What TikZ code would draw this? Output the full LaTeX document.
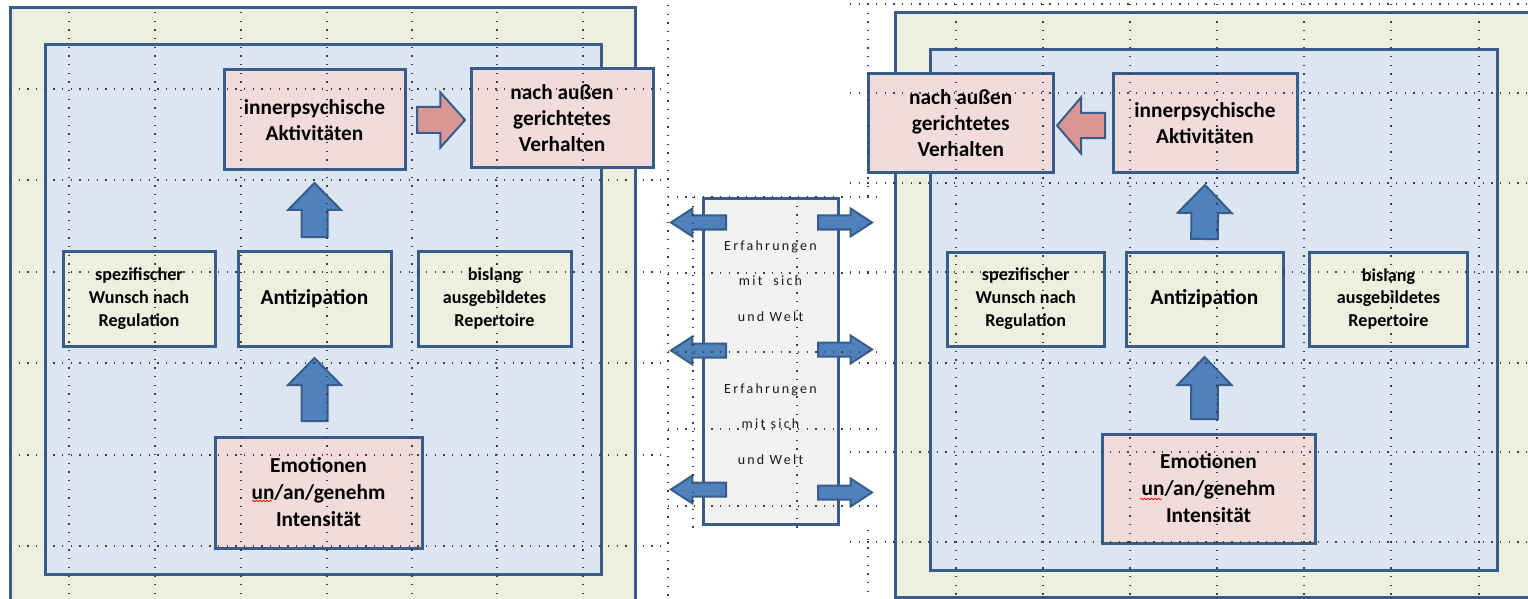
\documentclass[tikz,border=0pt]{standalone}
\usepackage{fontspec}
\setmainfont{Carlito}
\newfontfamily\midfont{Carlito}[LetterSpace=16]
\usetikzlibrary{calc,decorations.pathmorphing}

\definecolor{frame}{HTML}{385D8A}
\definecolor{olivebg}{HTML}{EBF1DE}
\definecolor{bluebg}{HTML}{DCE6F2}
\definecolor{rosebg}{HTML}{F2DCDB}
\definecolor{arrowblue}{HTML}{4F81BD}
\definecolor{arrowrose}{HTML}{D99694}
\definecolor{greybg}{HTML}{F2F2F2}
\definecolor{griddot}{HTML}{404040}
\definecolor{midtext}{HTML}{1A1A1A}

\tikzset{
  panel/.style={draw=frame, line width=2.25pt, inner sep=0pt, outer sep=0pt},
  box/.style={draw=frame, line width=2.25pt, inner sep=0pt, outer sep=0pt, align=center},
  rosebox/.style={box, fill=rosebg},
  olivebox/.style={box, fill=olivebg},
  bigtext/.style={font=\bfseries\fontsize{16}{19.5}\selectfont},
  emotext/.style={font=\bfseries\fontsize{16}{20.25}\selectfont},
  smalltext/.style={font=\bfseries\fontsize{13.6}{17.2}\selectfont},
  barrow/.style={fill=arrowblue, draw=frame, line width=1.5pt, line join=miter},
  rarrow/.style={fill=arrowrose, draw=frame, line width=1.5pt, line join=miter},
  dotline/.style={draw=griddot, line width=0.9pt, dash pattern=on 0.9pt off 5.6pt},
  spellmark/.style={draw=red, line width=0.6pt, decorate,
    decoration={snake, amplitude=0.55pt, segment length=2.6pt}},
}

% rectangle node given by its corners (in px): style, name, x1, y1, x2, y2, text
\newcommand\boxnode[7]{%
  \node[#1, minimum width={(#5-#3)*0.75pt}, minimum height={(#6-#4)*0.75pt}]
    (#2) at ({(#3+#5)/2},{(#4+#6)/2}) {#7};
}

% block arrow: style, tail, tip, shaft half-width, head half-width, head length
\newcommand\blockarrow[6]{%
  \coordinate (ba-h) at ($(#3)!#6!(#2)$);
  \path[#1] ($(#2)!#4!90:(#3)$) -- ($(ba-h)!#4!-90:(#2)$) -- ($(ba-h)!#5!-90:(#2)$)
    -- (#3) -- ($(ba-h)!#5!90:(#2)$) -- ($(ba-h)!#4!90:(#2)$) -- ($(#2)!#4!-90:(#3)$) -- cycle;
}

\begin{document}
\begin{tikzpicture}[x=0.75pt, y=-0.75pt]
\useasboundingbox (0,0) rectangle (1528,599);
\clip (0,0) rectangle (1528,599);

% ---------- panels ----------
\boxnode{panel, fill=olivebg}{Lframe}{10}{7.5}{635.5}{615}{}
\boxnode{panel, fill=bluebg}{Lbody}{45.5}{45}{601}{574.5}{}
\boxnode{panel, fill=olivebg}{Rframe}{895}{13}{1545}{597}{}
\boxnode{panel, fill=bluebg}{Rbody}{930}{50}{1497}{570}{}

% ---------- middle column ----------
\boxnode{box, fill=greybg}{mid}{703}{198.5}{838}{524}{}

% ---------- left boxes ----------
\boxnode{rosebox, bigtext}{Linner}{224}{70}{405}{170}{innerpsychische\\Aktivitäten}
\boxnode{rosebox, bigtext}{Lout}{471}{69}{653}{168}{nach außen\\gerichtetes\\Verhalten}
\boxnode{olivebox, smalltext}{Lwish}{63}{251}{215}{346}{spezifischer\\Wunsch nach\\Regulation}
\boxnode{olivebox, bigtext}{Lanti}{238}{251}{391}{346}{Antizipation}
\boxnode{olivebox, smalltext}{Lrep}{418}{251}{571}{346}{bislang\\ausgebildetes\\Repertoire}
\boxnode{rosebox, emotext}{Lemo}{215}{437}{422}{548}{Emotionen\\un/an/genehm\\Intensität}

% ---------- right boxes ----------
\boxnode{rosebox, bigtext}{Rout}{868.5}{74}{1053}{173}{nach außen\\gerichtetes\\Verhalten}
\boxnode{rosebox, bigtext}{Rinner}{1113}{74}{1297}{173}{innerpsychische\\Aktivitäten}
\boxnode{olivebox, smalltext}{Rwish}{947.5}{252}{1104}{346}{spezifischer\\Wunsch nach\\Regulation}
\boxnode{olivebox, bigtext}{Ranti}{1126}{252}{1283}{346}{Antizipation}
\boxnode{olivebox, smalltext}{Rrep}{1309.5}{252}{1467.5}{346}{bislang\\ausgebildetes\\Repertoire}
\boxnode{rosebox, emotext}{Remo}{1102}{434}{1315}{543}{Emotionen\\un/an/genehm\\Intensität}

% ---------- arrow ends ----------
\coordinate (Lu1a) at ($(Lanti.south|-Lemo.north)+(0,-16)$);
\coordinate (Lu1b) at ($(Lanti.south)+(0,12)$);
\coordinate (Lu2a) at ($(Lanti.north)+(0,-14)$);
\coordinate (Lu2b) at ($(Linner.south)+(0,13)$);
\coordinate (Lpa) at ($(Linner.east)+(12,0)$);
\coordinate (Lpb) at ($(Lout.west|-Linner.east)+(-6,0)$);

\coordinate (Ru1a) at ($(Ranti.south|-Remo.north)+(0,-15)$);
\coordinate (Ru1b) at ($(Ranti.south)+(0,11)$);
\coordinate (Ru2a) at ($(Ranti.north)+(0,-13)$);
\coordinate (Ru2b) at ($(Rinner.south)+(0,12)$);
\coordinate (Rpa) at ($(Rinner.west)+(-8,2)$);
\coordinate (Rpb) at ($(Rout.east|-Rpa)+(4,0)$);

\coordinate (ml1a) at ($(mid.north west)+(23,24)$);
\coordinate (ml1b) at ($(mid.north west)+(-32,24)$);
\coordinate (ml2a) at ($(mid.north west)+(23,152)$);
\coordinate (ml2b) at ($(mid.north west)+(-32,152)$);
\coordinate (ml3a) at ($(mid.north west)+(23,291)$);
\coordinate (ml3b) at ($(mid.north west)+(-32,291)$);
\coordinate (mr1a) at ($(mid.north east)+(-20,24)$);
\coordinate (mr1b) at ($(mid.north east)+(34,24)$);
\coordinate (mr2a) at ($(mid.north east)+(-20,151)$);
\coordinate (mr2b) at ($(mid.north east)+(34,151)$);
\coordinate (mr3a) at ($(mid.north east)+(-20,294)$);
\coordinate (mr3b) at ($(mid.north east)+(34,294)$);

% ---------- block arrows ----------
\blockarrow{barrow}{Lu1a}{Lu1b}{9.75pt}{19.9pt}{20.25pt}
\blockarrow{barrow}{Lu2a}{Lu2b}{9.75pt}{19.9pt}{20.25pt}
\blockarrow{rarrow}{Lpa}{Lpb}{9.75pt}{20.6pt}{18.4pt}
\blockarrow{barrow}{Ru1a}{Ru1b}{10pt}{20.25pt}{21pt}
\blockarrow{barrow}{Ru2a}{Ru2b}{10pt}{20.25pt}{21pt}
\blockarrow{rarrow}{Rpa}{Rpb}{9.5pt}{21pt}{18pt}
\foreach \n in {ml1,ml2,ml3,mr1,mr2,mr3}{
  \blockarrow{barrow}{\n a}{\n b}{5.25pt}{10.5pt}{16.1pt}
}

% ---------- middle text ----------
\node[font=\midfont\fontsize{10.5}{26.8}\selectfont, text=midtext, align=center] (midtxt) at (770.5,352.5)
  {Erfahrungen\\mit\ \ sich\\und Welt\\[26.8pt]Erfahrungen\\mit sich\\und Welt};

% ---------- dotted layout grid ----------
\foreach \y in {89,180,272,363,455,546} \draw[dotline] (10,\y) -- (668,\y);
\foreach \x in {69,155,241,327,412,497,583} \draw[dotline] (\x,12) -- (\x,599);
\draw[dotline] (668,5) -- (668,599);
\foreach \x in {693,797} \draw[dotline] (\x,197) -- (\x,528);
\foreach \y in {197,273,352,429,506} \draw[dotline] (668,\y) -- (880,\y);
\foreach \y in {4,93,183,272,363,452,542} \draw[dotline] (850,\y) -- (1528,\y);
\foreach \x in {956,1043,1130,1217,1304,1391,1479} \draw[dotline] (\x,4) -- (\x,599);
\draw[dotline] (868,4) -- (868,195);
\draw[dotline] (868,530) -- (868,599);

% ---------- spelling marks ----------
\draw[spellmark] (252,501) -- (272,501);
\draw[spellmark] (1140,499) -- (1162,499);
\end{tikzpicture}
\end{document}
